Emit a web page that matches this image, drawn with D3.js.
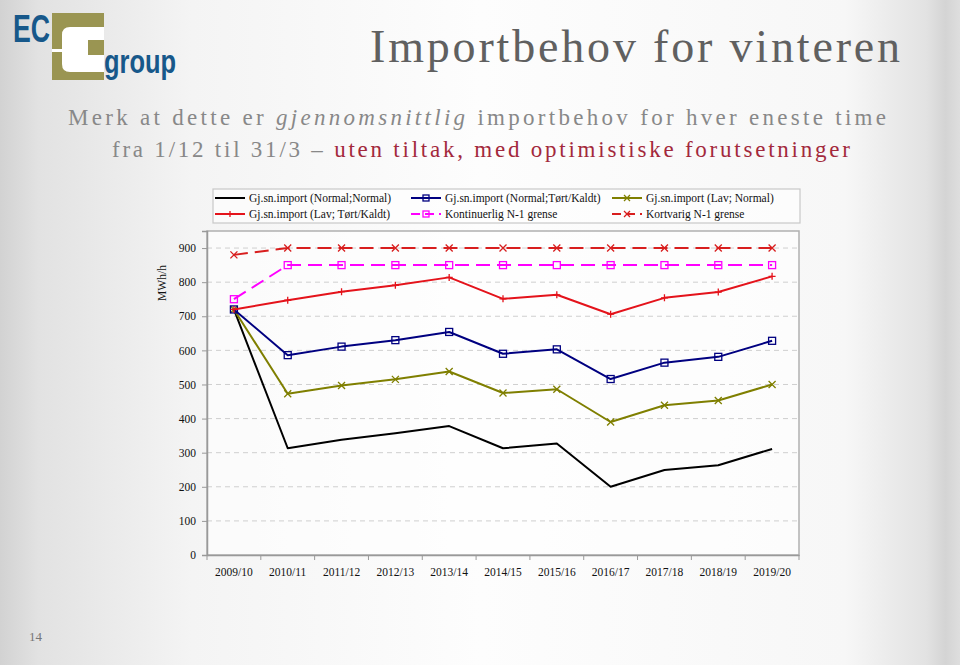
<!DOCTYPE html>
<html><head><meta charset="utf-8">
<script src="https://cdn.jsdelivr.net/npm/d3@7"></script>
<style>
html,body{margin:0;padding:0;}
svg{display:block;}
</style></head>
<body>
<svg id="chart" width="960" height="665"></svg>
<script>
const categories = ["2009/10","2010/11","2011/12","2012/13","2013/14","2014/15","2015/16","2016/17","2017/18","2018/19","2019/20"];
const normalNormal   = [720,313,338,357,378,313,327,200,249,263,311];
const normalTortKald = [720,586,611,630,654,590,603,516,564,581,628];
const lavNormal      = [720,473,497,515,538,475,486,390,439,453,500];
const lavTortKald    = [720,747,772,791,814,751,763,706,754,771,817];
const kontinuerligN1 = [750,850,850,850,850,850,850,850,850,850,850];
const kortvarigN1    = [880,900,900,900,900,900,900,900,900,900,900];
const yTicks = [0,100,200,300,400,500,600,700,800,900];
const seriesNames = ["Gj.sn.import (Normal;Normal)","Gj.sn.import (Normal;Tørt/Kaldt)","Gj.sn.import (Lav; Normal)","Gj.sn.import (Lav; Tørt/Kaldt)","Kontinuerlig N-1 grense","Kortvarig N-1 grense"];

const series = [
  {name:seriesNames[0], values:normalNormal,   color:"#000000", dash:null,   marker:"none"},
  {name:seriesNames[1], values:normalTortKald, color:"#000080", dash:null,   marker:"square"},
  {name:seriesNames[2], values:lavNormal,      color:"#7f7f00", dash:null,   marker:"x"},
  {name:seriesNames[3], values:lavTortKald,    color:"#e4131b", dash:null,   marker:"plus"},
  {name:seriesNames[4], values:kontinuerligN1, color:"#ff00ff", dash:"14,7", marker:"square"},
  {name:seriesNames[5], values:kortvarigN1,    color:"#d81e1e", dash:"14,7", marker:"x"}
];

const svg = d3.select("#chart");
const defs = svg.append("defs");
const bg = defs.append("linearGradient").attr("id","bg").attr("x1","0").attr("x2","1").attr("y1","0").attr("y2","0");
[[0,"#d2d2d2"],[0.04,"#e2e2e2"],[0.2,"#f4f4f4"],[0.5,"#fdfdfd"],[0.88,"#f7f7f7"],[0.965,"#e2e2e2"],[0.985,"#d4d4d4"],[1,"#dedede"]]
  .forEach(([o,c])=>bg.append("stop").attr("offset",o).attr("stop-color",c));
svg.append("rect").attr("width",960).attr("height",665).attr("fill","url(#bg)");

// Logo
const logo = svg.append("g");
logo.append("text").attr("x",13).attr("y",42).attr("font-family","Liberation Sans Narrow, Liberation Sans, Arial").attr("font-weight","bold")
  .attr("font-size",38).attr("fill","#17588a").attr("textLength",37).attr("lengthAdjust","spacingAndGlyphs").text("EC");
logo.append("rect").attr("x",52).attr("y",13).attr("width",52).attr("height",67).attr("fill","#9a9552");
logo.append("path").attr("fill","#ffffff")
  .attr("d","M70,27 H104 V40 H88 V55 H104 V72 H70 Q62,72 62,64 V52 H52 V49 H62 V35 Q62,27 70,27 Z");
logo.append("text").attr("x",104).attr("y",73).attr("font-family","Liberation Sans Narrow, Liberation Sans, Arial").attr("font-weight","bold")
  .attr("font-size",34).attr("fill","#17588a").attr("textLength",72).attr("lengthAdjust","spacingAndGlyphs").text("group");

// Title
function fitText(sel, target){
  const w = sel.node().getComputedTextLength();
  const n = sel.text().length;
  sel.attr("letter-spacing", ((target - w)/ (n-1)).toFixed(2));
}
const title = svg.append("text").attr("x",370).attr("y",62).attr("font-family","Liberation Serif, serif")
  .attr("font-size",46).attr("fill","#606060").text("Importbehov for vinteren");
fitText(title, 530);

const sub1 = svg.append("text").attr("x",68).attr("y",125).attr("font-family","Liberation Serif, serif")
  .attr("font-size",23).attr("fill","#888888");
sub1.append("tspan").text("Merk at dette er ");
sub1.append("tspan").attr("font-style","italic").text("gjennomsnittlig");
sub1.append("tspan").text(" importbehov for hver eneste time");
fitText(sub1, 818);

const sub2 = svg.append("text").attr("x",112).attr("y",157).attr("font-family","Liberation Serif, serif")
  .attr("font-size",23).attr("fill","#888888");
sub2.append("tspan").text("fra 1/12 til 31/3 – ");
sub2.append("tspan").attr("fill","#a3293c").text("uten tiltak, med optimistiske forutsetninger");
fitText(sub2, 738);

// Chart
const pLeft = 207, pRight = 799, pTop = 231, pBottom = 555;
const x = d3.scaleBand().domain(categories).range([pLeft,pRight]);
const y = d3.scaleLinear().domain([0,950]).range([pBottom,pTop]);

svg.append("rect").attr("x",pLeft).attr("y",pTop).attr("width",pRight-pLeft).attr("height",pBottom-pTop)
  .attr("fill","#ffffff").attr("fill-opacity",0.6).attr("stroke","#b0b0b0").attr("stroke-width",1.5);

// grid
svg.append("g").selectAll("line").data(yTicks.filter(d=>d>0)).join("line")
  .attr("x1",pLeft).attr("x2",pRight).attr("y1",d=>y(d)).attr("y2",d=>y(d))
  .attr("stroke","#cfcfcf").attr("stroke-dasharray","5,4").attr("stroke-width",1);

// y axis
const yAxis = svg.append("g").attr("transform",`translate(${pLeft},0)`)
  .call(d3.axisLeft(y).tickValues(yTicks).tickSize(5).tickPadding(6));
yAxis.select(".domain").attr("stroke","#999").attr("stroke-width",1.5);
yAxis.selectAll(".tick line").attr("stroke","#999");
yAxis.selectAll("text").attr("font-family","Liberation Serif, serif").attr("font-size",11.5).attr("fill","#111");

// x axis
const xAxis = svg.append("g").attr("transform",`translate(0,${pBottom})`)
  .call(d3.axisBottom(x).tickSize(0).tickPadding(13));
xAxis.select(".domain").attr("stroke","#999").attr("stroke-width",1.5);
xAxis.selectAll("text").attr("font-family","Liberation Serif, serif").attr("font-size",11.5).attr("fill","#111");
const bounds = categories.map(c=>x(c)).concat([pRight]);
xAxis.selectAll(".bnd").data(bounds).join("line").attr("class","bnd")
  .attr("x1",d=>d).attr("x2",d=>d).attr("y1",0).attr("y2",5).attr("stroke","#999");

svg.append("text").attr("transform","translate(166,283) rotate(-90)").attr("text-anchor","middle")
  .attr("font-family","Liberation Serif, serif").attr("font-size",11.5).attr("fill","#111").text("MWh/h");

function drawMarker(g, type, color, cx, cy, s){
  if(type==="square"){
    g.append("rect").attr("x",cx-s/2).attr("y",cy-s/2).attr("width",s).attr("height",s)
      .attr("fill","none").attr("stroke",color).attr("stroke-width",1.3);
  } else if(type==="x"){
    const h=s/2;
    g.append("path").attr("d",`M${cx-h},${cy-h}L${cx+h},${cy+h}M${cx-h},${cy+h}L${cx+h},${cy-h}`)
      .attr("stroke",color).attr("stroke-width",1.3).attr("fill","none");
  } else if(type==="plus"){
    const h=s/2;
    g.append("path").attr("d",`M${cx-h},${cy}L${cx+h},${cy}M${cx},${cy-h}L${cx},${cy+h}`)
      .attr("stroke",color).attr("stroke-width",1.3).attr("fill","none");
  }
}

const line = d3.line().x((d,i)=>x(categories[i])+x.bandwidth()/2).y(d=>y(d));
const drawOrder = [5,4,0,2,1,3];
drawOrder.forEach(k=>{
  const s = series[k];
  const g = svg.append("g");
  g.append("path").datum(s.values).attr("d",line).attr("fill","none").attr("stroke",s.color)
    .attr("stroke-width",2).attr("stroke-dasharray",s.dash).attr("stroke-linejoin","round");
  s.values.forEach((v,i)=>drawMarker(g, s.marker, s.color, x(categories[i])+x.bandwidth()/2, y(v), 7));
});

// Legend
svg.append("rect").attr("x",213).attr("y",189).attr("width",587).attr("height",34)
  .attr("fill","#ffffff").attr("fill-opacity",0.6).attr("stroke","#c8c8c8").attr("stroke-width",1.2);
const legendPos = [[215,198],[411,198],[612,198],[215,214],[411,214],[612,214]];
series.forEach((s,i)=>{
  const [lx,ly] = legendPos[i];
  const g = svg.append("g");
  const len = 30;
  g.append("line").attr("x1",lx).attr("x2",lx+len).attr("y1",ly).attr("y2",ly).attr("stroke",s.color)
    .attr("stroke-width",2).attr("stroke-dasharray",s.dash ? "9,5" : null);
  drawMarker(g, s.marker, s.color, lx+len/2, ly, 6);
  g.append("text").attr("x",lx+34).attr("y",ly+4).attr("font-family","Liberation Serif, serif")
    .attr("font-size",11.5).attr("fill","#111").text(s.name);
});

svg.append("text").attr("x",29).attr("y",641).attr("font-family","Liberation Serif, serif")
  .attr("font-size",13).attr("fill","#777").text("14");
</script>
</body></html>
